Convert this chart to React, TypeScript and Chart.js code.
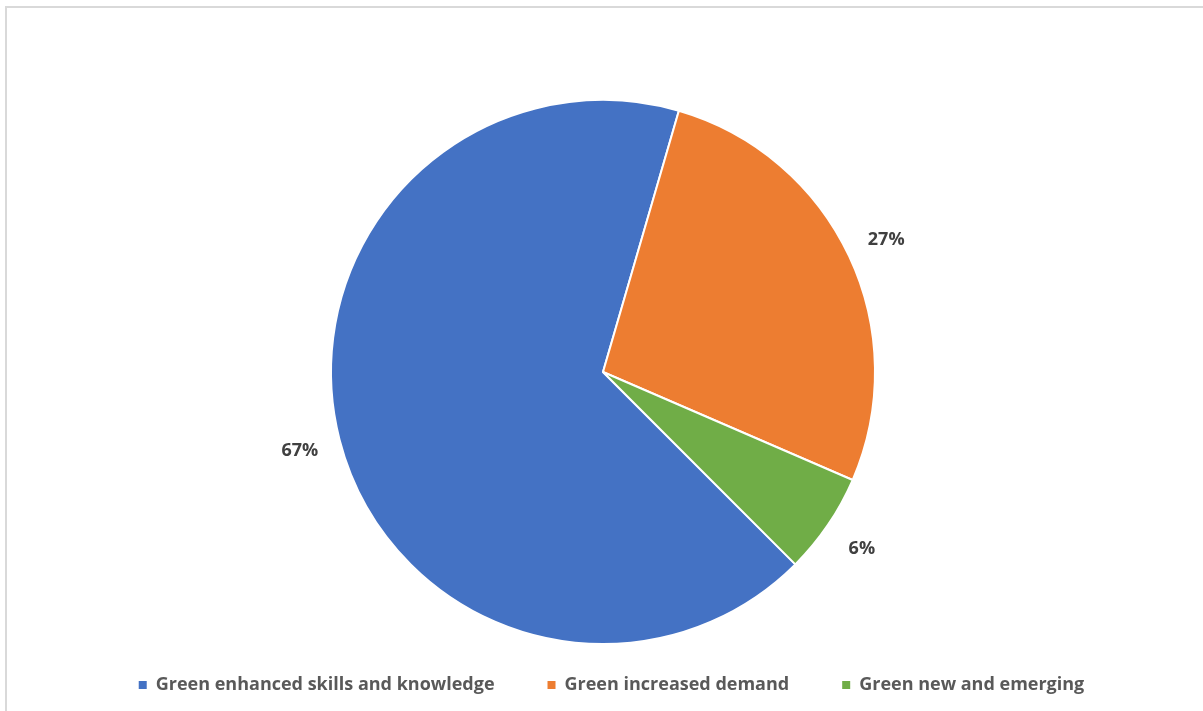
import { useEffect, useRef } from "react";
import { Chart, registerables } from "chart.js";

Chart.register(...registerables);

const categories = [
  "Green enhanced skills and knowledge",
  "Green increased demand",
  "Green new and emerging",
];
const shares = [67, 27, 6];
const sliceColors = ["#4472C4", "#ED7D31", "#70AD47"];

const FONT = "'Open Sans', sans-serif";

export default function App() {
  const ref = useRef<HTMLCanvasElement>(null);

  useEffect(() => {
    document.body.style.margin = "0";
    const canvas = ref.current;
    if (!canvas) return;

    const frame = {
      id: "frame",
      beforeDraw(chart: any) {
        const ctx = chart.ctx;
        ctx.save();
        ctx.fillStyle = "#ffffff";
        ctx.fillRect(0, 0, chart.width, chart.height);
        ctx.strokeStyle = "#d9d9d9";
        ctx.lineWidth = 2;
        ctx.beginPath();
        ctx.moveTo(6, chart.height);
        ctx.lineTo(6, 7);
        ctx.lineTo(chart.width, 7);
        ctx.stroke();
        ctx.restore();
      },
    };

    const outerLabels = {
      id: "outerLabels",
      afterDatasetsDraw(chart: any) {
        const ctx = chart.ctx;
        const meta = chart.getDatasetMeta(0);
        const data = chart.data.datasets[0].data as number[];
        const total = data.reduce((a, b) => a + b, 0);
        ctx.save();
        ctx.font = `bold 18px ${FONT}`;
        ctx.fillStyle = "#404040";
        ctx.textAlign = "center";
        ctx.textBaseline = "middle";
        meta.data.forEach((arc: any, i: number) => {
          const p = arc.getProps(["startAngle", "endAngle", "x", "y", "outerRadius"], true);
          const mid = (p.startAngle + p.endAngle) / 2;
          const r = p.outerRadius + 41;
          ctx.fillText(
            Math.round((data[i] / total) * 100) + "%",
            p.x + Math.cos(mid) * r,
            p.y + Math.sin(mid) * r + 1
          );
        });
        ctx.restore();
      },
    };

    const shiftLegend = {
      id: "shiftLegend",
      afterLayout(chart: any) {
        if (chart.legend) {
          chart.legend.left += 8.5;
          chart.legend.right += 8.5;
        }
      },
    };

    const chart = new Chart(canvas, {
      type: "pie",
      data: {
        labels: categories,
        datasets: [
          {
            data: shares,
            backgroundColor: sliceColors,
            borderColor: "#ffffff",
            borderWidth: 2,
            hoverOffset: 0,
            clip: false,
          } as any,
        ],
      },
      options: {
        animation: false,
        responsive: false,
        rotation: 135,
        radius: 272,
        layout: { padding: { top: 121, bottom: 7, left: 3, right: 0 } },
        plugins: {
          tooltip: { enabled: false },
          legend: {
            position: "bottom",
            labels: {
              boxWidth: 8,
              boxHeight: 8,
              padding: 53,
              color: "#595959",
              font: { family: FONT, size: 18, weight: "bold" },
              generateLabels(c: any) {
                const items = Chart.overrides.pie.plugins.legend.labels.generateLabels(c);
                return items.map((it: any) => ({ ...it, lineWidth: 0, strokeStyle: "transparent" }));
              },
            },
          },
        },
      } as any,
      plugins: [frame, outerLabels, shiftLegend],
    });

    return () => chart.destroy();
  }, []);

  return (
    <div style={{ position: "absolute", left: 0, top: 0, width: 1203, height: 711 }}>
      <canvas ref={ref} width={1203} height={711} style={{ display: "block", width: 1203, height: 711 }} />
    </div>
  );
}
